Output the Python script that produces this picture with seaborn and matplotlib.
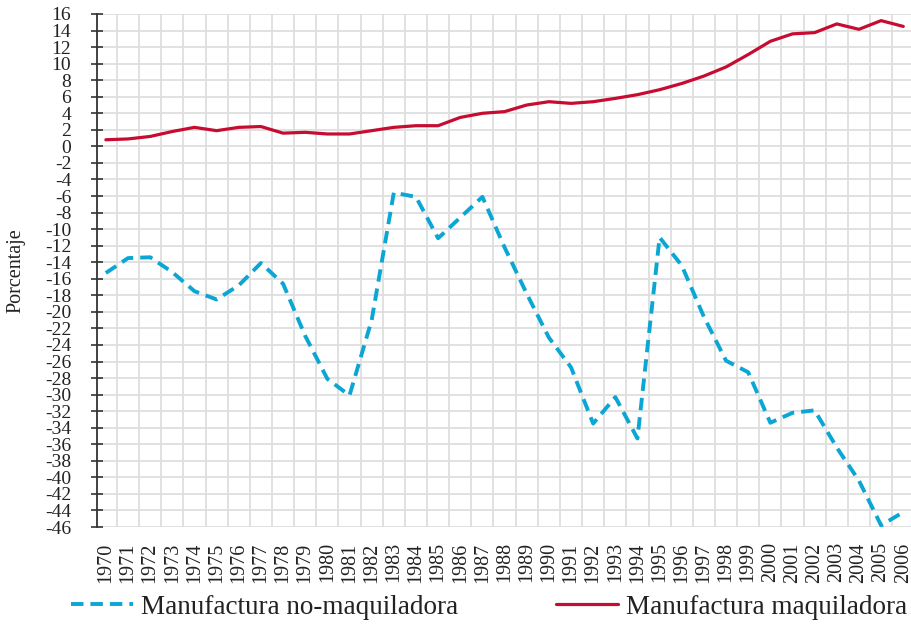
import numpy as np
import pandas as pd
import matplotlib
matplotlib.use("Agg")
import matplotlib.pyplot as plt
from matplotlib.ticker import FixedLocator
from matplotlib.lines import Line2D
import seaborn as sns

years = list(range(1970, 2007))
maquiladora = [0.8, 0.9, 1.2, 1.8, 2.3, 1.9, 2.3, 2.4, 1.6, 1.7, 1.5, 1.5, 1.9,
               2.3, 2.5, 2.5, 3.5, 4.0, 4.2, 5.0, 5.4, 5.2, 5.4, 5.8, 6.25, 6.85,
               7.6, 8.5, 9.6, 11.1, 12.7, 13.6, 13.75, 14.8, 14.15, 15.2, 14.5]
no_maquiladora = [-15.3, -13.5, -13.4, -15.2, -17.5, -18.5, -16.8, -14.1, -16.6,
                  -22.9, -28.1, -30.1, -21.0, -5.6, -6.1, -11.1, -8.6, -6.1,
                  -12.2, -17.8, -23.1, -26.7, -33.5, -30.3, -35.3, -11.0, -14.4,
                  -20.6, -25.9, -27.3, -33.4, -32.2, -31.9, -36.4, -40.4, -45.8, -44.2]
series_names = ["Manufactura no-maquiladora", "Manufactura maquiladora"]
y_ticks = list(range(-46, 17, 2))

sns.set_theme(style="white")
plt.rcParams['font.family'] = ['Liberation Serif', 'DejaVu Serif']

df = pd.DataFrame({
    "year": years * 2,
    "value": no_maquiladora + maquiladora,
    "serie": [series_names[0]] * len(years) + [series_names[1]] * len(years),
})

blue = "#0aa6d4"
red = "#c60c30"
dash = (0, (3.2, 1.8))

fig = plt.figure(figsize=(9.11, 6.27), dpi=100)
ax = fig.add_axes([97 / 911, 1 - 527 / 627, 1 - 97 / 911, (527 - 14) / 627])

sns.lineplot(data=df[df.serie == series_names[1]], x="year", y="value", ax=ax,
             color=red, linewidth=2.3, legend=False)
sns.lineplot(data=df[df.serie == series_names[0]], x="year", y="value", ax=ax,
             color=blue, linewidth=2.8, legend=False)
ax.lines[-1].set_linestyle(dash)

ax.set_xlim(1969.6, 2006.35)
ax.set_ylim(-46, 16)
ax.yaxis.set_major_locator(FixedLocator(y_ticks))
ax.set_yticklabels([str(t) for t in y_ticks], fontsize=14, color="#222222")
ax.xaxis.set_major_locator(FixedLocator(years))
ax.set_xticklabels([str(y) for y in years], rotation=90, fontsize=14.5, color="#222222")

ax.grid(False)
for t in y_ticks:
    ax.axhline(t, color="#dedede", linewidth=1.3, zorder=0)
for y in years:
    ax.axvline(y + 0.5, color="#dedede", linewidth=1.3, zorder=0)

ax.tick_params(axis="y", direction="inout", length=9, width=1.2, color="#333333", pad=14, left=True)
ax.tick_params(axis="x", length=0, pad=11)
for s in ["top", "right", "bottom"]:
    ax.spines[s].set_visible(False)
ax.spines["left"].set_color("#333333")
ax.spines["left"].set_linewidth(1.3)

ax.set_xlabel("")
ax.set_ylabel("Porcentaje", fontsize=14.5, color="#222222", labelpad=14)

handles = [Line2D([0], [0], color=blue, linewidth=2.8, linestyle=dash),
           Line2D([0], [0], color=red, linewidth=2.3)]
fig.legend(handles, series_names, loc="center", bbox_to_anchor=(0.537, 1 - 607 / 627),
           ncol=2, frameon=False, fontsize=19.5, handlelength=2.3, handletextpad=0.3,
           columnspacing=3.6, labelcolor="#222222")

fig.savefig("out.png", dpi=100)
